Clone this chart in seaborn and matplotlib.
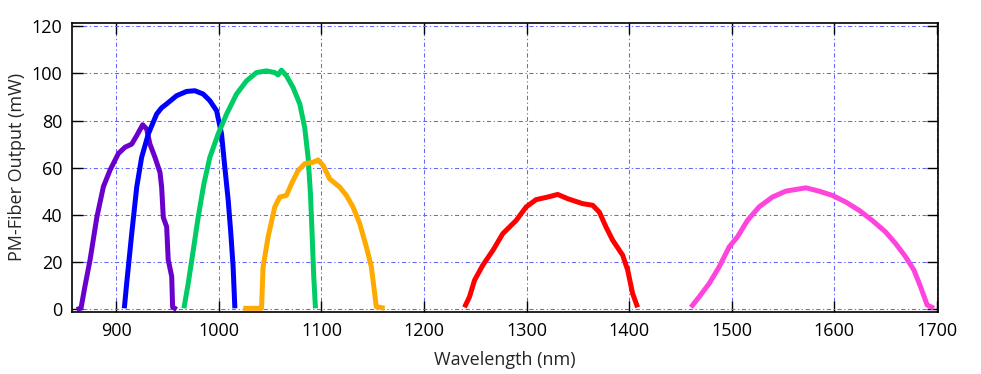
import pandas as pd
import matplotlib.pyplot as plt
import seaborn as sns

# -------------------------------
# DATA
# -------------------------------
purple_x = [861.4, 865.6, 869.5, 874.4, 881.0, 887.4, 893.9, 902.0, 908.5, 915.0, 919.9,
            925.7, 929.6, 932.8, 937.7, 942.6, 944.2, 945.8, 949.1, 950.6, 954.0, 954.9, 958.8]
purple_y = [0.0, 0.6, 10.0, 21.0, 39.0, 52.0, 59.0, 66.0, 68.7, 70.0, 73.6,
            78.2, 76.4, 70.0, 64.4, 58.0, 51.8, 39.0, 35.0, 21.0, 14.0, 1.0, 0.0]

blue_x = [907.8, 910.1, 915.0, 919.9, 924.7, 931.2, 939.3, 944.0, 949.0, 958.8, 968.5, 976.6,
          984.7, 991.2, 997.8, 1002.6, 1005.8, 1009.1, 1011.7, 1013.9, 1015.6]
blue_y = [0.5, 11.0, 32.0, 51.8, 64.4, 74.3, 82.7, 85.3, 87.0, 90.5, 92.3, 92.6,
          91.2, 88.4, 84.1, 74.3, 60.2, 46.2, 32.0, 18.0, 0.5]

green_x = [965.9, 970.1, 975.0, 979.8, 985.4, 991.2, 999.3, 1007.5, 1017.2, 1027.0, 1036.7,
           1046.4, 1054.5, 1057.7, 1061.0, 1065.9, 1072.3, 1078.9, 1083.7, 1087.0, 1089.3,
           1090.9, 1092.5, 1094.2]
green_y = [0.5, 11.0, 25.0, 39.0, 53.2, 64.4, 74.3, 82.7, 91.2, 96.8, 100.3,
           101.0, 100.3, 99.3, 101.3, 98.9, 94.0, 87.0, 77.0, 64.4, 49.0,
           32.0, 14.0, 0.5]

orange_x = [1023.8, 1041.6, 1043.1, 1048.0, 1054.5, 1059.4, 1065.9, 1070.8, 1077.2, 1083.7,
            1091.8, 1096.7, 1101.6, 1108.0, 1117.8, 1124.3, 1130.8, 1137.3, 1143.8, 1148.7,
            1153.5, 1161.6]
orange_y = [0.5, 0.5, 18.0, 30.7, 43.4, 47.6, 48.3, 53.2, 58.8, 61.7,
            62.3, 63.3, 61.0, 55.3, 51.8, 48.3, 43.4, 36.4, 26.5, 18.0,
            1.2, 0.5]

red_x = [1239.5, 1244.4, 1249.3, 1257.4, 1267.3, 1276.8, 1289.9, 1299.6, 1309.3, 1320.6,
         1330.4, 1340.1, 1354.7, 1364.5, 1371.0, 1377.5, 1384.0, 1393.7, 1398.6, 1403.4, 1408.3]
red_y = [0.9, 5.4, 12.4, 18.8, 25.1, 32.1, 37.7, 43.4, 46.5, 47.6,
         48.7, 46.9, 44.8, 44.1, 41.2, 34.9, 29.3, 23.0, 16.7, 6.8, 0.9]

magenta_x = [1460.3, 1468.4, 1478.1, 1487.8, 1497.6, 1505.6, 1515.4, 1526.7, 1539.7, 1552.8,
             1562.5, 1572.3, 1585.2, 1598.2, 1611.2, 1624.2, 1637.1, 1650.1, 1659.9, 1669.6,
             1677.7, 1684.2, 1690.6, 1697.2]
magenta_y = [0.9, 5.4, 11.0, 18.0, 26.5, 30.7, 37.7, 43.4, 47.6, 50.1,
             50.8, 51.5, 50.1, 48.3, 45.5, 42.0, 37.7, 32.8, 27.9, 22.3,
             16.7, 9.6, 1.9, 0.5]

curves = [
    (purple_x, purple_y, '#6A00CC'),
    (blue_x, blue_y, '#0000FF'),
    (green_x, green_y, '#00CC66'),
    (orange_x, orange_y, '#FFAA00'),
    (red_x, red_y, '#FF0000'),
    (magenta_x, magenta_y, '#FF44DD'),
]

# -------------------------------
# STYLE
# -------------------------------
sns.set_style("ticks")
plt.rcParams['font.family'] = ['Open Sans', 'DejaVu Sans']

fig = plt.figure(figsize=(9.81, 3.74), dpi=100)
ax = fig.add_axes([0.0734, 0.1658, 0.8831, 0.7735])

for xs, ys, col in curves:
    df = pd.DataFrame({'wl': xs, 'p': ys})
    sns.lineplot(data=df, x='wl', y='p', color=col, linewidth=3.6, ax=ax,
                 estimator=None, sort=False, solid_capstyle='butt')

ax.set_xlim(856.8, 1701.5)
ax.set_ylim(-1.06, 121.4)
ax.set_xticks(range(900, 1701, 100))
ax.set_yticks(range(0, 121, 20))

ax.grid(True, color='#6464FF', linestyle=(0, (4, 2.5, 1.2, 2.5)), linewidth=0.75)
ax.set_axisbelow(True)

ax.tick_params(direction='in', length=8, width=1, top=True, right=True,
               labelsize=13, colors='black', pad=7)
for s in ax.spines.values():
    s.set_linewidth(1.2)
    s.set_color('black')

ax.set_xlabel("Wavelength (nm)", fontsize=13, labelpad=8)
ax.set_ylabel("PM-Fiber Output (mW)", fontsize=13, labelpad=4)

plt.savefig('out.png', dpi=100)
